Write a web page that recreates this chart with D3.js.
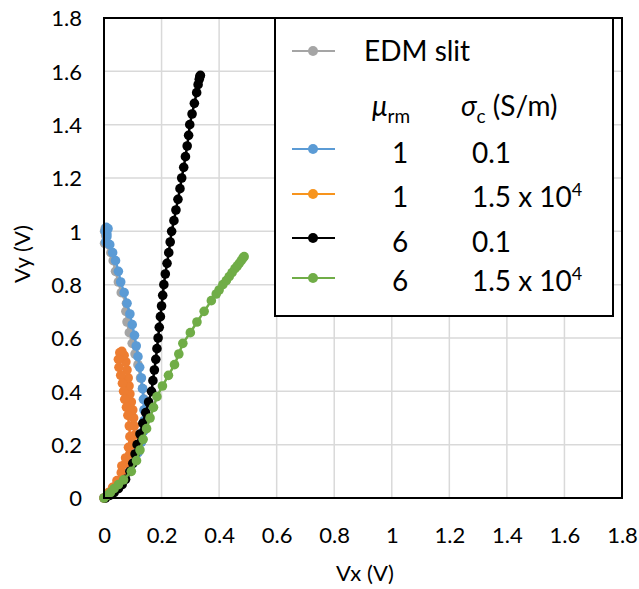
<!DOCTYPE html>
<html><head><meta charset="utf-8">
<script src="https://cdn.jsdelivr.net/npm/d3@7"></script>
<style>body{margin:0;background:#fff}svg{display:block}text{font-family:Lato,"Open Sans",sans-serif;fill:#000}</style>
</head><body>
<svg id="c" width="639" height="589"></svg>
<script>
// ---- data ----
const xTicks = [0,0.2,0.4,0.6,0.8,1,1.2,1.4,1.6,1.8];
const yTicks = [0,0.2,0.4,0.6,0.8,1,1.2,1.4,1.6,1.8];
const xTickLabels = ["0","0.2","0.4","0.6","0.8","1","1.2","1.4","1.6","1.8"];
const yTickLabels = ["0","0.2","0.4","0.6","0.8","1","1.2","1.4","1.6","1.8"];

const grayX = [0,0.02,0.045,0.075,0.1,0.118,0.13,0.137,0.14,0.142,0.14,0.134,0.127,0.118,0.108,0.098,0.088,0.08,0.076,0.078,0.06,0.05,0.04,0.032,0.024,0.016,0.008,0.002,0.004,0.01,0.006,0.002];
const grayY = [0,0.02,0.05,0.09,0.13,0.17,0.21,0.25,0.29,0.33,0.37,0.41,0.45,0.5,0.54,0.58,0.62,0.66,0.7,0.73,0.77,0.81,0.85,0.89,0.92,0.95,0.98,1.0,1.01,1.005,0.985,0.955];

const blueX = [0,0.02,0.045,0.075,0.1,0.118,0.13,0.137,0.14,0.139,0.137,0.134,0.13,0.124,0.118,0.112,0.106,0.098,0.09,0.08,0.07,0.058,0.05,0.04,0.03,0.02,0.01,0.004,0.008,0.014,0.01,0.006];
const blueY = [0,0.02,0.05,0.09,0.13,0.17,0.21,0.25,0.29,0.33,0.37,0.41,0.45,0.49,0.53,0.57,0.61,0.65,0.69,0.73,0.77,0.81,0.85,0.89,0.92,0.95,0.98,1.0,1.015,1.01,0.99,0.96];

const orangeX = [0,0.015,0.03,0.045,0.06,0.075,0.09,0.1,0.105,0.105,0.103,0.1,0.095,0.09,0.087,0.084,0.08,0.076,0.07,0.062,0.055,0.05,0.052,0.058,0.064,0.068,0.072,0.078,0.083,0.088,0.09,0.085,0.075,0.062];
const orangeY = [0,0.02,0.04,0.065,0.095,0.13,0.165,0.2,0.235,0.27,0.3,0.33,0.36,0.39,0.42,0.45,0.48,0.51,0.535,0.55,0.545,0.52,0.49,0.46,0.43,0.4,0.37,0.34,0.31,0.27,0.23,0.19,0.15,0.12];

const blackX = [0.005,0.02,0.035,0.05,0.063,0.075,0.09,0.1,0.108,0.115,0.125,0.135,0.145,0.155,0.165,0.17,0.175,0.18,0.184,0.188,0.192,0.196,0.2,0.204,0.208,0.213,0.219,0.225,0.23,0.235,0.243,0.25,0.257,0.264,0.27,0.277,0.283,0.289,0.294,0.298,0.306,0.314,0.322,0.327,0.331,0.333,0.335];
const blackY = [0,0.01,0.02,0.035,0.05,0.07,0.1,0.13,0.165,0.2,0.24,0.28,0.32,0.36,0.4,0.44,0.48,0.52,0.56,0.6,0.64,0.68,0.72,0.76,0.8,0.84,0.88,0.92,0.96,1.0,1.04,1.08,1.12,1.16,1.2,1.24,1.28,1.32,1.36,1.4,1.44,1.48,1.52,1.55,1.57,1.58,1.585];

const greenX = [0,0.012,0.022,0.035,0.05,0.068,0.095,0.113,0.125,0.136,0.148,0.16,0.172,0.184,0.203,0.224,0.245,0.26,0.274,0.3,0.323,0.348,0.373,0.39,0.4,0.413,0.425,0.435,0.445,0.455,0.463,0.47,0.477,0.483,0.487];
const greenY = [0,0.01,0.02,0.035,0.05,0.068,0.1,0.14,0.18,0.22,0.26,0.3,0.34,0.38,0.42,0.46,0.5,0.54,0.58,0.62,0.66,0.7,0.74,0.765,0.78,0.8,0.815,0.83,0.845,0.86,0.87,0.88,0.89,0.9,0.905];

const seriesNames = ["EDM slit","mu1_s0.1","mu1_s1.5e4","mu6_s0.1","mu6_s1.5e4"];
const seriesColors = ["#A5A5A5","#5B9BD5","#ED7D31","#000000","#70AD47"];
const legendColors = ["#A5A5A5","#5B9BD5","#F7941D","#000000","#70AD47"];
const legendMu = ["1","1","6","6"];
const legendSigma = ["0.1","1.5 x 10","0.1","1.5 x 10"];
const legendSigmaSup = ["","4","","4"];

// ---- chart ----
const svg = d3.select("#c");
const L=104, R=622, T=18, B=498;
const x = d3.scaleLinear().domain([0,1.8]).range([L,R]);
const y = d3.scaleLinear().domain([0,1.8]).range([B,T]);

// gridlines
svg.append("g").selectAll("line.vg").data(xTicks.slice(1,-1)).join("line")
  .attr("x1",d=>x(d)).attr("x2",d=>x(d)).attr("y1",T).attr("y2",B)
  .attr("stroke","#d9d9d9").attr("stroke-width",1.5);
svg.append("g").selectAll("line.hg").data(yTicks.slice(1,-1)).join("line")
  .attr("y1",d=>y(d)).attr("y2",d=>y(d)).attr("x1",L).attr("x2",R)
  .attr("stroke","#d9d9d9").attr("stroke-width",1.5);

// axes (labels only)
const xAxis = d3.axisBottom(x).tickValues(xTicks).tickFormat((d,i)=>xTickLabels[i]).tickSize(0).tickPadding(0);
const gx = svg.append("g").attr("transform",`translate(0,${B})`).call(xAxis);
gx.select(".domain").remove();
gx.selectAll("text").attr("dy",null).attr("y",45).style("font-size","22px").style("font-family","Lato");
const yAxis = d3.axisLeft(y).tickValues(yTicks).tickFormat((d,i)=>yTickLabels[i]).tickSize(0).tickPadding(0);
const gy = svg.append("g").attr("transform",`translate(${L},0)`).call(yAxis);
gy.select(".domain").remove();
gy.selectAll("text").attr("x",-22).attr("dy","0.36em").style("font-size","22px").style("font-family","Lato");

// series
const allX=[grayX,blueX,orangeX,blackX,greenX];
const allY=[grayY,blueY,orangeY,blackY,greenY];
const line=d3.line().x(d=>x(d[0])).y(d=>y(d[1]));
allX.forEach((xs,i)=>{
  const pts=xs.map((v,j)=>[v,allY[i][j]]);
  const g=svg.append("g");
  g.append("path").datum(pts).attr("d",line).attr("fill","none")
    .attr("stroke",seriesColors[i]).attr("stroke-width",2.5);
  g.selectAll("circle").data(pts).join("circle")
    .attr("cx",d=>x(d[0])).attr("cy",d=>y(d[1])).attr("r",4.8)
    .attr("fill",seriesColors[i]);
});

// plot frame
svg.append("rect").attr("x",L).attr("y",T).attr("width",R-L).attr("height",B-T)
  .attr("fill","none").attr("stroke","#000").attr("stroke-width",2);

// axis titles
svg.append("text").attr("x",365).attr("y",581).attr("text-anchor","middle")
  .style("font-size","22px").text("Vx (V)");
svg.append("text").attr("transform","translate(30,254) rotate(-90)").attr("text-anchor","middle")
  .style("font-size","22px").text("Vy (V)");

// legend
const lg = svg.append("g");
lg.append("rect").attr("x",275).attr("y",18).attr("width",338).attr("height",298)
  .attr("fill","#fff").attr("stroke","#000").attr("stroke-width",2);
const markerY=[51,149,194,238,278];
const textY=[61,163,207,252,291];
markerY.forEach((my,i)=>{
  lg.append("line").attr("x1",292).attr("x2",335).attr("y1",my).attr("y2",my)
    .attr("stroke",legendColors[i]).attr("stroke-width",2);
  lg.append("circle").attr("cx",313).attr("cy",my).attr("r",5).attr("fill",legendColors[i]);
});
lg.append("text").attr("x",364).attr("y",textY[0]).style("font-size","28px").text(seriesNames[0]);
// header
const hdr1 = lg.append("text").attr("x",372).attr("y",116).style("font-size","28px");
hdr1.append("tspan").style("font-style","italic").text("μ");
hdr1.append("tspan").attr("dy",7).style("font-size","19px").text("rm");
const hdr2 = lg.append("text").attr("x",461).attr("y",116).style("font-size","28px");
hdr2.append("tspan").style("font-style","italic").text("σ");
hdr2.append("tspan").attr("dy",7).style("font-size","19px").text("c");
hdr2.append("tspan").attr("dy",-7).text(" (S/m)");
legendMu.forEach((m,i)=>{
  lg.append("text").attr("x",400).attr("y",textY[i+1]).attr("text-anchor","middle")
    .style("font-size","28px").text(m);
  const t=lg.append("text").attr("x",472).attr("y",textY[i+1]).style("font-size","28px");
  t.append("tspan").text(legendSigma[i]);
  if(legendSigmaSup[i]) t.append("tspan").attr("dy",-11).style("font-size","18px").text(legendSigmaSup[i]);
});
</script>
</body></html>
